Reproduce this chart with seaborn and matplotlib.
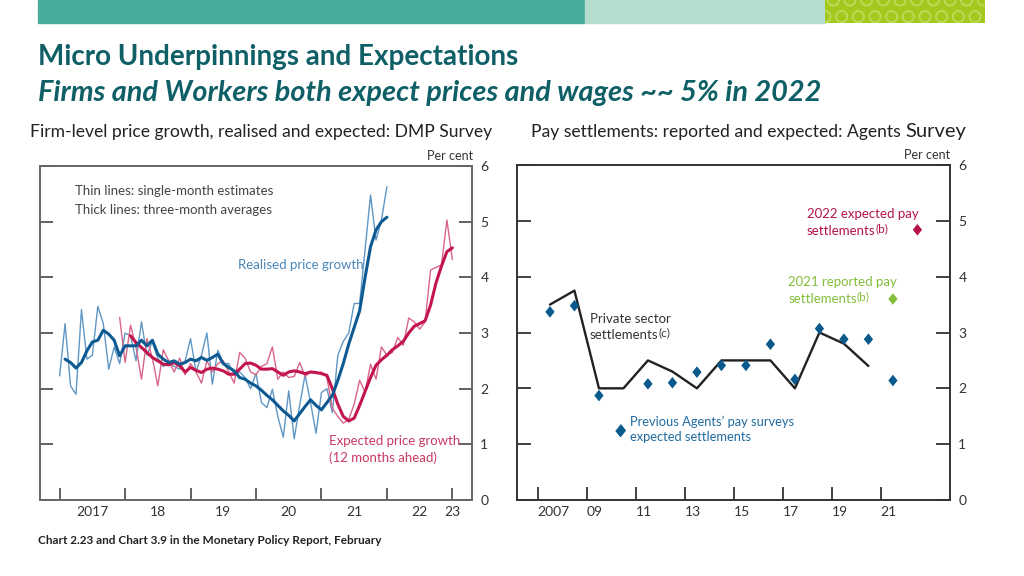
import matplotlib
matplotlib.use("Agg")
import matplotlib.pyplot as plt
from matplotlib.patches import Rectangle
from matplotlib.lines import Line2D
from matplotlib.text import Annotation
import seaborn as sns
import numpy as np
import pandas as pd

# ---- left panel: DMP survey, monthly, index 0 = Jan 2017 ----
realised_single_start = 0
realised_single = [2.23, 3.17, 2.05, 1.90, 3.42, 2.53, 2.60, 3.48, 3.17, 2.35, 2.75, 2.45,
                   3.00, 2.95, 2.50, 3.20, 2.60, 2.85, 2.55, 2.40, 2.45, 2.40, 2.35, 2.50,
                   2.90, 2.30, 2.60, 3.00, 2.08, 2.69, 2.45, 2.45, 2.25, 2.30, 2.20, 2.00,
                   2.27, 1.75, 1.66, 1.99, 1.50, 1.13, 1.96, 1.10, 1.70, 2.25, 1.75, 1.20,
                   1.93, 2.00, 1.57, 2.60, 2.85, 3.00, 3.53, 3.53, 4.50, 5.48, 4.67, 5.03,
                   5.63]
realised_3m_start = 1
realised_3m = [2.53, 2.47, 2.37, 2.47, 2.68, 2.84, 2.87, 3.05, 2.98, 2.87, 2.59,
               2.77, 2.77, 2.77, 2.87, 2.77, 2.87, 2.62, 2.53, 2.47, 2.50, 2.44, 2.47,
               2.53, 2.50, 2.56, 2.51, 2.56, 2.62, 2.45, 2.38, 2.32, 2.20, 2.17, 2.10,
               2.05, 1.97, 1.88, 1.80, 1.70, 1.60, 1.52, 1.42, 1.55, 1.68, 1.80, 1.70,
               1.62, 1.75, 1.88, 2.15, 2.45, 2.80, 3.10, 3.40, 4.00, 4.55, 4.85, 5.00,
               5.08]
expected_single_start = 11
expected_single = [3.28,
                   2.47, 3.14, 2.75, 2.17, 2.90, 2.55, 2.05, 2.70, 2.50, 2.30, 2.55, 2.25,
                   2.45, 2.30, 2.10, 2.50, 2.30, 2.45, 2.50, 2.30, 2.10, 2.65, 2.55, 2.30,
                   2.25, 2.40, 2.45, 2.75, 2.17, 2.30, 2.20, 2.22, 2.47, 2.22, 2.30, 2.27,
                   2.30, 2.20, 1.65, 1.50, 1.38, 1.45, 1.72, 2.15, 1.94, 2.44, 2.17, 2.75,
                   2.60, 2.65, 2.92, 2.78, 3.27, 3.20, 3.07, 3.20, 4.13, 4.18, 4.22, 5.03,
                   4.32]
expected_3m_start = 13
expected_3m = [2.95, 2.83, 2.74, 2.65, 2.56, 2.50, 2.44, 2.43, 2.47, 2.41, 2.30,
               2.38, 2.33, 2.29, 2.35, 2.37, 2.35, 2.32, 2.26, 2.26, 2.35, 2.45, 2.46,
               2.42, 2.35, 2.35, 2.36, 2.30, 2.24, 2.30, 2.32, 2.30, 2.27, 2.30, 2.29,
               2.27, 2.24, 2.00, 1.72, 1.50, 1.42, 1.47, 1.70, 1.95, 2.20, 2.42, 2.52,
               2.60, 2.70, 2.77, 2.85, 3.00, 3.12, 3.17, 3.22, 3.50, 3.90, 4.20, 4.46,
               4.53]
left_year_ticks = [2017, 2018, 2019, 2020, 2021, 2022, 2023]
left_year_labels = ["2017", "18", "19", "20", "21", "22", "23"]

# ---- right panel: Agents' pay settlements, annual ----
private_years = [2007, 2008, 2009, 2010, 2011, 2012, 2013, 2014, 2015, 2016, 2017, 2018, 2019, 2020]
private_settlements = [3.5, 3.75, 2.0, 2.0, 2.5, 2.3, 2.0, 2.5, 2.5, 2.5, 2.0, 3.0, 2.8, 2.4]
agents_years = [2007, 2008, 2009, 2011, 2012, 2013, 2014, 2015, 2016, 2017, 2018, 2019, 2020, 2021]
agents_expected = [3.37, 3.48, 1.87, 2.08, 2.10, 2.29, 2.41, 2.41, 2.79, 2.16, 3.07, 2.88, 2.88, 2.14]
reported_2021_year = [2021]
reported_2021 = [3.60]
expected_2022_year = [2022]
expected_2022 = [4.84]
right_year_ticks = [2007, 2009, 2011, 2013, 2015, 2017, 2019, 2021]
right_year_labels = ["2007", "09", "11", "13", "15", "17", "19", "21"]

BLUE_THIN = "#6097c5"
BLUE_THICK = "#0d5a92"
RED_THIN = "#d9668a"
RED_THICK = "#c3154d"
DIAMOND_BLUE = "#0b5a8e"
GREEN = "#84bd3c"
CRIMSON = "#b3134a"
TEAL_TEXT = "#0f5f66"


def monthly(values, start):
    idx = start + np.arange(len(values))
    return pd.DataFrame({"t": 2017 + idx / 12.0, "v": values})


def with_sup(ax, x, y, word, sup, color):
    # word followed by a raised footnote marker
    t = ax.text(x, y, word, fontsize=9.5, color=color, va="center")
    ax.annotate(sup, xy=(1, 0.22), xycoords=t, va="bottom", ha="left",
                fontsize=8.5, color=color, annotation_clip=False)


sns.set_theme(style="white")
plt.rcParams["font.family"] = ["Lato", "DejaVu Sans"]

fig = plt.figure(figsize=(10.24, 5.76), dpi=100)

# banner
fig.patches.append(Rectangle((38 / 1024, 553 / 576), 547 / 1024, 23 / 576,
                             transform=fig.transFigure, color="#48ab9c", zorder=0))
fig.patches.append(Rectangle((585 / 1024, 553 / 576), 240 / 1024, 23 / 576,
                             transform=fig.transFigure, color="#b4ddd0", zorder=0))
fig.patches.append(Rectangle((825 / 1024, 553 / 576), 160 / 1024, 23 / 576,
                             transform=fig.transFigure, facecolor="#a4c81e",
                             edgecolor="#bcd955", hatch="O", lw=0, zorder=0))

fig.text(38 / 1024, 1 - 57 / 576, "Micro Underpinnings and Expectations",
         fontsize=20, fontweight="bold", color=TEAL_TEXT, va="center")
fig.text(38 / 1024, 1 - 93 / 576, "Firms and Workers both expect prices and wages ~~ 5% in 2022",
         fontsize=20.8, fontweight="bold", style="italic", color=TEAL_TEXT, va="center")
fig.text(30 / 1024, 1 - 132 / 576, "Firm-level price growth, realised and expected: DMP Survey",
         fontsize=12.6, color="#222222", va="center")
t_pay = fig.text(531 / 1024, 1 - 132 / 576, "Pay settlements: reported and expected: Agents ",
                 fontsize=12.6, color="#222222", va="center")
fig.add_artist(Annotation("Survey", xy=(1, 0), xycoords=t_pay, va="bottom", ha="left",
                          fontsize=14.5, color="#222222", annotation_clip=False))
fig.text(38 / 1024, 1 - 541 / 576, "Chart 2.23 and Chart 3.9 in the Monetary Policy Report, February",
         fontsize=8.5, fontweight="bold", color="#222222", va="center")

# ---------------- left panel ----------------
ax1 = fig.add_axes([40 / 1024, 76 / 576, 432 / 1024, 334 / 576])
sns.lineplot(data=monthly(realised_single, realised_single_start), x="t", y="v",
             color=BLUE_THIN, lw=1.0, ax=ax1)
sns.lineplot(data=monthly(expected_single, expected_single_start), x="t", y="v",
             color=RED_THIN, lw=1.0, ax=ax1)
sns.lineplot(data=monthly(expected_3m, expected_3m_start), x="t", y="v",
             color=RED_THICK, lw=2.2, ax=ax1)
sns.lineplot(data=monthly(realised_3m, realised_3m_start), x="t", y="v",
             color=BLUE_THICK, lw=2.2, ax=ax1)

ax1.set_xlim(2016.70, 2023.30)
ax1.set_ylim(0, 6)
ax1.set_xlabel("")
ax1.set_ylabel("")
ax1.xaxis.remove_overlapping_locs = False
ax1.set_xticks(left_year_ticks)
ax1.set_xticklabels([])
label_pos = [y + 0.5 for y in left_year_ticks[:-1]] + [left_year_ticks[-1]]
ax1.set_xticks(label_pos, minor=True)
ax1.set_xticklabels(left_year_labels, minor=True)
ax1.tick_params(axis="x", which="major", direction="in", length=9, width=1.3,
                color="#555555", bottom=True)
ax1.tick_params(axis="x", which="minor", length=0, pad=4, labelsize=10,
                labelcolor="#333333", bottom=True)
ax1.set_yticks(range(7))
ax1.tick_params(axis="y", direction="in", length=9.5, width=1.3, color="#555555",
                left=True, right=True, labelleft=False, labelright=True, pad=6,
                labelsize=10, labelcolor="#333333")
for s in ax1.spines.values():
    s.set_color("#666666")
    s.set_linewidth(1.4)
ax1.text(0.95, 1.03, "Per cent", transform=ax1.transAxes, ha="center", va="center",
         fontsize=9, color="#333333")
ax1.text(2017.24, 5.55, "Thin lines: single-month estimates", fontsize=9.5,
         color="#444444", va="center")
ax1.text(2017.24, 5.21, "Thick lines: three-month averages", fontsize=9.5,
         color="#444444", va="center")
ax1.text(2019.72, 4.23, "Realised price growth", fontsize=9.5, color="#4a86b8", va="center")
ax1.text(2021.11, 1.06, "Expected price growth", fontsize=9.5, color="#c83a62", va="center")
ax1.text(2021.11, 0.76, "(12 months ahead)", fontsize=9.5, color="#c83a62", va="center")

# ---------------- right panel ----------------
ax2 = fig.add_axes([517 / 1024, 76 / 576, 433 / 1024, 335 / 576])
diamond = [(0, 1), (0.8, 0), (0, -1), (-0.8, 0)]
priv = pd.DataFrame({"year": np.array(private_years) + 0.5, "v": private_settlements})
sns.lineplot(data=priv, x="year", y="v", color="#222222", lw=1.7, ax=ax2)
agents = pd.DataFrame({"year": np.array(agents_years) + 0.5, "v": agents_expected})
sns.scatterplot(data=agents, x="year", y="v", marker=diamond, s=70, color=DIAMOND_BLUE,
                edgecolor="none", ax=ax2, zorder=3)
sns.scatterplot(x=np.array(reported_2021_year) + 0.5, y=reported_2021, marker=diamond, s=70,
                color=GREEN, edgecolor="none", ax=ax2, zorder=3)
sns.scatterplot(x=np.array(expected_2022_year) + 0.5, y=expected_2022, marker=diamond, s=70,
                color=CRIMSON, edgecolor="none", ax=ax2, zorder=3)

ax2.set_xlim(2006.155, 2023.83)
ax2.set_ylim(0, 6)
ax2.set_xlabel("")
ax2.set_ylabel("")
ax2.set_xticks(right_year_ticks)
ax2.set_xticklabels(right_year_labels)
for lbl in ax2.get_xticklabels():
    lbl.set_ha("left")
ax2.tick_params(axis="x", direction="in", length=9.5, width=1.3, color="#333333",
                bottom=True, pad=4, labelsize=10, labelcolor="#333333")
ax2.set_yticks(range(7))
ax2.tick_params(axis="y", direction="in", length=10, width=1.3, color="#333333",
                left=True, right=True, labelleft=False, labelright=True, pad=6,
                labelsize=10, labelcolor="#333333")
for s in ax2.spines.values():
    s.set_color("#333333")
    s.set_linewidth(1.4)
ax2.text(0.947, 1.03, "Per cent", transform=ax2.transAxes, ha="center", va="center",
         fontsize=9, color="#333333")
ax2.text(2009.13, 3.25, "Private sector", fontsize=9.5, color="#333333", va="center")
with_sup(ax2, 2009.13, 2.95, "settlements", "(c)", "#333333")
ax2.text(2017.99, 5.12, "2022 expected pay", fontsize=9.5, color=CRIMSON, va="center")
with_sup(ax2, 2017.99, 4.82, "settlements", "(b)", CRIMSON)
ax2.text(2017.22, 3.90, "2021 reported pay", fontsize=9.5, color=GREEN, va="center")
with_sup(ax2, 2017.22, 3.60, "settlements", "(b)", GREEN)
leg = ax2.legend(handles=[Line2D([], [], marker=diamond, color=DIAMOND_BLUE, ls="none", ms=8.5)],
                 labels=["Previous Agents\u2019 pay surveys\nexpected settlements"],
                 loc="upper left", bbox_to_anchor=(0.225, 0.252), frameon=False,
                 labelcolor="#1f6aa0", fontsize=9.3, handlelength=0.9, handletextpad=0.3,
                 borderpad=0, borderaxespad=0)
for t in leg.get_texts():
    t.set_linespacing(1.35)

fig.savefig("out.png", dpi=100)
